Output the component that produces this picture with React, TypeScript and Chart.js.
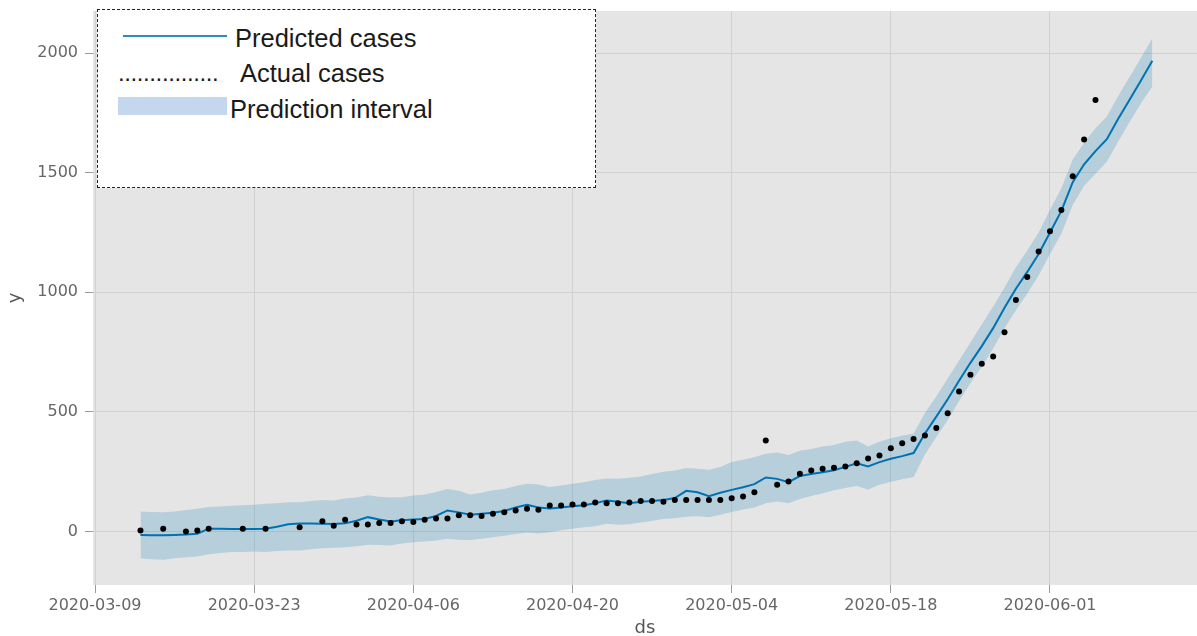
import React, { useEffect, useRef } from 'react';
import { Chart, registerables } from 'chart.js';

Chart.register(...registerables);

// ---------- data ----------
const AXIS_ORIGIN = '2020-03-09';
const FORECAST_START = '2020-03-13';

// daily forecast 2020-03-13 .. 2020-06-10
const yhat = [
  -15, -16, -16, -15, -13, -9, 12, 11, 10, 10,
  10, 12, 20, 30, 33, 33, 32, 31, 34, 45,
  60, 50, 42, 47, 50, 52, 65, 88, 80, 70,
  74, 78, 86, 100, 112, 100, 96, 100, 106, 110,
  118, 130, 124, 118, 124, 128, 132, 140, 170, 164,
  148, 162, 174, 185, 198, 226, 220, 206, 232, 240,
  248, 256, 270, 285, 272, 290, 304, 315, 328, 410,
  480, 553, 630, 705, 775, 850, 935, 1015, 1085, 1160,
  1250, 1340, 1460, 1535, 1590, 1640, 1725, 1805, 1885, 1968,
];
const yhatUpper = [
  84, 82, 80, 84, 90, 95, 102, 104, 108, 110,
  112, 116, 118, 122, 122, 128, 132, 130, 138, 142,
  152, 145, 142, 143, 150, 155, 165, 178, 170, 155,
  162, 172, 178, 190, 200, 196, 186, 192, 200, 206,
  215, 222, 220, 225, 230, 240, 250, 255, 265, 262,
  258, 270, 290, 300, 310, 325, 330, 320, 338, 345,
  355, 362, 375, 380, 355, 375, 390, 400, 410, 495,
  565, 640, 715, 790, 865, 940, 1020, 1105, 1175, 1250,
  1345, 1435, 1555, 1625, 1685, 1735, 1820, 1900, 1980, 2062,
];
const yhatLower = [
  -112, -116, -118, -112, -108, -104, -95, -90, -86, -86,
  -84, -86, -82, -79, -79, -74, -70, -68, -66, -62,
  -55, -56, -58, -50, -45, -42, -38, -30, -34, -36,
  -30, -24, -18, -10, -4, -8, -3, 5, 12, 18,
  22, 32, 28, 30, 38, 45, 52, 55, 62, 64,
  60, 70, 82, 92, 100, 118, 125, 118, 136, 148,
  160, 172, 182, 190, 176, 195, 208, 218, 228, 322,
  395, 465, 545, 620, 690, 765, 850, 925, 995, 1070,
  1160, 1245, 1365, 1445, 1495, 1545, 1630, 1712, 1790, 1860,
];

const actualDates = [
  '2020-03-13', '2020-03-15', '2020-03-17', '2020-03-18', '2020-03-19', '2020-03-22',
  '2020-03-24', '2020-03-27', '2020-03-29', '2020-03-30', '2020-03-31',
  '2020-04-01', '2020-04-02', '2020-04-03', '2020-04-04', '2020-04-05', '2020-04-06',
  '2020-04-07', '2020-04-08', '2020-04-09', '2020-04-10', '2020-04-11', '2020-04-12',
  '2020-04-13', '2020-04-14', '2020-04-15', '2020-04-16', '2020-04-17', '2020-04-18',
  '2020-04-19', '2020-04-20', '2020-04-21', '2020-04-22', '2020-04-23', '2020-04-24',
  '2020-04-25', '2020-04-26', '2020-04-27', '2020-04-28', '2020-04-29', '2020-04-30',
  '2020-05-01', '2020-05-02', '2020-05-03', '2020-05-04', '2020-05-05', '2020-05-06',
  '2020-05-07', '2020-05-08', '2020-05-09', '2020-05-10', '2020-05-11', '2020-05-12',
  '2020-05-13', '2020-05-14', '2020-05-15', '2020-05-16', '2020-05-17', '2020-05-18',
  '2020-05-19', '2020-05-20', '2020-05-21', '2020-05-22', '2020-05-23', '2020-05-24',
  '2020-05-25', '2020-05-26', '2020-05-27', '2020-05-28', '2020-05-29', '2020-05-30',
  '2020-05-31', '2020-06-01', '2020-06-02', '2020-06-03', '2020-06-04', '2020-06-05',
];
const actualValues = [
  4, 11, 0, 4, 11, 11, 11, 18, 43, 24, 49,
  29, 29, 36, 36, 43, 40, 49, 54, 54, 68, 68, 65, 74, 81, 88, 95, 91, 109, 109,
  113, 113, 121, 118, 118, 121, 127, 127, 124, 132, 132,
  132, 132, 132, 139, 146, 164, 380, 195, 209, 241, 255, 262, 266, 272, 285, 305,
  318, 348, 369, 387, 401, 433, 494, 585, 655, 701, 731, 833, 968, 1064, 1170,
  1255, 1344, 1485, 1638, 1804,
];

const xTickLabels = ['2020-03-09', '2020-03-23', '2020-04-06', '2020-04-20', '2020-05-04', '2020-05-18', '2020-06-01'];
const yTickValues = [0, 500, 1000, 1500, 2000];

// ---------- helpers ----------
const DAY_MS = 86400000;
const dayOf = (d: string) =>
  Math.round((Date.parse(d + 'T00:00:00Z') - Date.parse(AXIS_ORIGIN + 'T00:00:00Z')) / DAY_MS);
const forecastStartDay = dayOf(FORECAST_START);
const toPoints = (vals: number[]) => vals.map((v, i) => ({ x: forecastStartDay + i, y: v }));
const xTickDays = xTickLabels.map(dayOf);

const plotBg = {
  id: 'plotBg',
  beforeDraw(chart: any) {
    const { ctx, chartArea } = chart;
    if (!chartArea) return;
    ctx.save();
    ctx.fillStyle = '#e5e5e5';
    ctx.fillRect(chartArea.left, chartArea.top, chartArea.right - chartArea.left, chartArea.bottom - chartArea.top);
    ctx.restore();
  },
};

const legendFont = '"Liberation Sans", Arial, sans-serif';

export default function App() {
  const canvasRef = useRef<HTMLCanvasElement | null>(null);

  useEffect(() => {
    if (!canvasRef.current) return;
    const chart = new Chart(canvasRef.current, {
      type: 'line',
      data: {
        datasets: [
          {
            label: 'Actual cases',
            data: actualDates.map((d, i) => ({ x: dayOf(d), y: actualValues[i] })),
            showLine: false,
            pointRadius: 3,
            pointBackgroundColor: '#000',
            pointBorderWidth: 0,
            borderColor: '#000',
          },
          {
            label: 'Predicted cases',
            data: toPoints(yhat),
            borderColor: '#0072B2',
            borderWidth: 2,
            pointRadius: 0,
            tension: 0,
            fill: false,
          },
          {
            label: 'lower',
            data: toPoints(yhatLower),
            borderWidth: 0,
            borderColor: 'rgba(0,0,0,0)',
            pointRadius: 0,
            fill: false,
          },
          {
            label: 'Prediction interval',
            data: toPoints(yhatUpper),
            borderWidth: 0,
            borderColor: 'rgba(0,0,0,0)',
            pointRadius: 0,
            fill: '-1',
            backgroundColor: 'rgba(0,114,178,0.2)',
          },
        ],
      },
      options: {
        animation: false,
        responsive: false,
        events: [],
        layout: { autoPadding: false, padding: { top: 11, left: 0, right: 0, bottom: 0 } },
        plugins: { legend: { display: false }, tooltip: { enabled: false } },
        scales: {
          x: {
            type: 'linear',
            min: -0.176,
            max: 96.93,
            afterBuildTicks: (scale: any) => {
              scale.ticks = xTickDays.map((v) => ({ value: v }));
            },
            afterFit: (scale: any) => {
              scale.height = 51;
              scale.paddingLeft = 0;
              scale.paddingRight = 0;
            },
            grid: { color: '#d1d1d1', lineWidth: 1, tickLength: 8, tickColor: '#9a9a9a', tickWidth: 1 },
            border: { display: false },
            ticks: {
              autoSkip: false,
              maxRotation: 0,
              padding: 3,
              color: '#666',
              font: { family: '"DejaVu Sans"', size: 16 },
              callback: (v: any) => {
                const i = xTickDays.indexOf(Number(v));
                return i >= 0 ? xTickLabels[i] : '';
              },
            },
            title: {
              display: true,
              text: 'ds',
              color: '#555',
              font: { family: '"DejaVu Sans"', size: 18, lineHeight: 0.8 },
              padding: { top: 0, bottom: 0 },
            },
          },
          y: {
            type: 'linear',
            min: -223.6,
            max: 2175.6,
            afterBuildTicks: (scale: any) => {
              scale.ticks = yTickValues.map((v) => ({ value: v }));
            },
            afterFit: (scale: any) => {
              scale.width = 93;
              scale.paddingTop = 0;
              scale.paddingBottom = 0;
            },
            grid: { color: '#d1d1d1', lineWidth: 1, tickLength: 8, tickColor: '#9a9a9a', tickWidth: 1 },
            border: { display: false },
            ticks: {
              padding: 7,
              color: '#666',
              font: { family: '"DejaVu Sans"', size: 16 },
              callback: (v: any) => String(v),
            },
            title: {
              display: true,
              text: 'y',
              color: '#555',
              font: { family: '"DejaVu Sans"', size: 18, lineHeight: 0.8 },
              padding: { top: 8, bottom: 0 },
            },
          },
        },
      },
      plugins: [plotBg],
    } as any);
    return () => chart.destroy();
  }, []);

  const txt: React.CSSProperties = {
    position: 'absolute',
    fontFamily: legendFont,
    fontSize: 25.5,
    lineHeight: 'normal',
    color: '#1a1a1a',
    whiteSpace: 'nowrap',
  };

  return (
    <div style={{ position: 'absolute', left: 0, top: 0, width: 1197, height: 636, background: '#fff', overflow: 'hidden' }}>
      <canvas ref={canvasRef} width={1197} height={636} style={{ position: 'absolute', left: 0, top: 0, width: 1197, height: 636 }} />
      <div
        style={{
          position: 'absolute',
          left: 97,
          top: 9,
          width: 499,
          height: 179,
          boxSizing: 'border-box',
          border: '1px dashed #222',
          background: '#fff',
        }}
      >
        <div style={{ position: 'absolute', left: 25, top: 24.5, width: 104, height: 2.5, background: '#2e8bc0' }} />
        <div style={{ ...txt, left: 137, top: 13.5 }}>Predicted cases</div>
        <div style={{ ...txt, left: 20, top: 48.5, fontSize: 24, letterSpacing: -0.4 }}>................</div>
        <div style={{ ...txt, left: 142, top: 48.5 }}>Actual cases</div>
        <div style={{ position: 'absolute', left: 20, top: 87, width: 109, height: 18, background: '#c5d6ef' }} />
        <div style={{ ...txt, left: 132, top: 84.5 }}>Prediction interval</div>
      </div>
    </div>
  );
}
